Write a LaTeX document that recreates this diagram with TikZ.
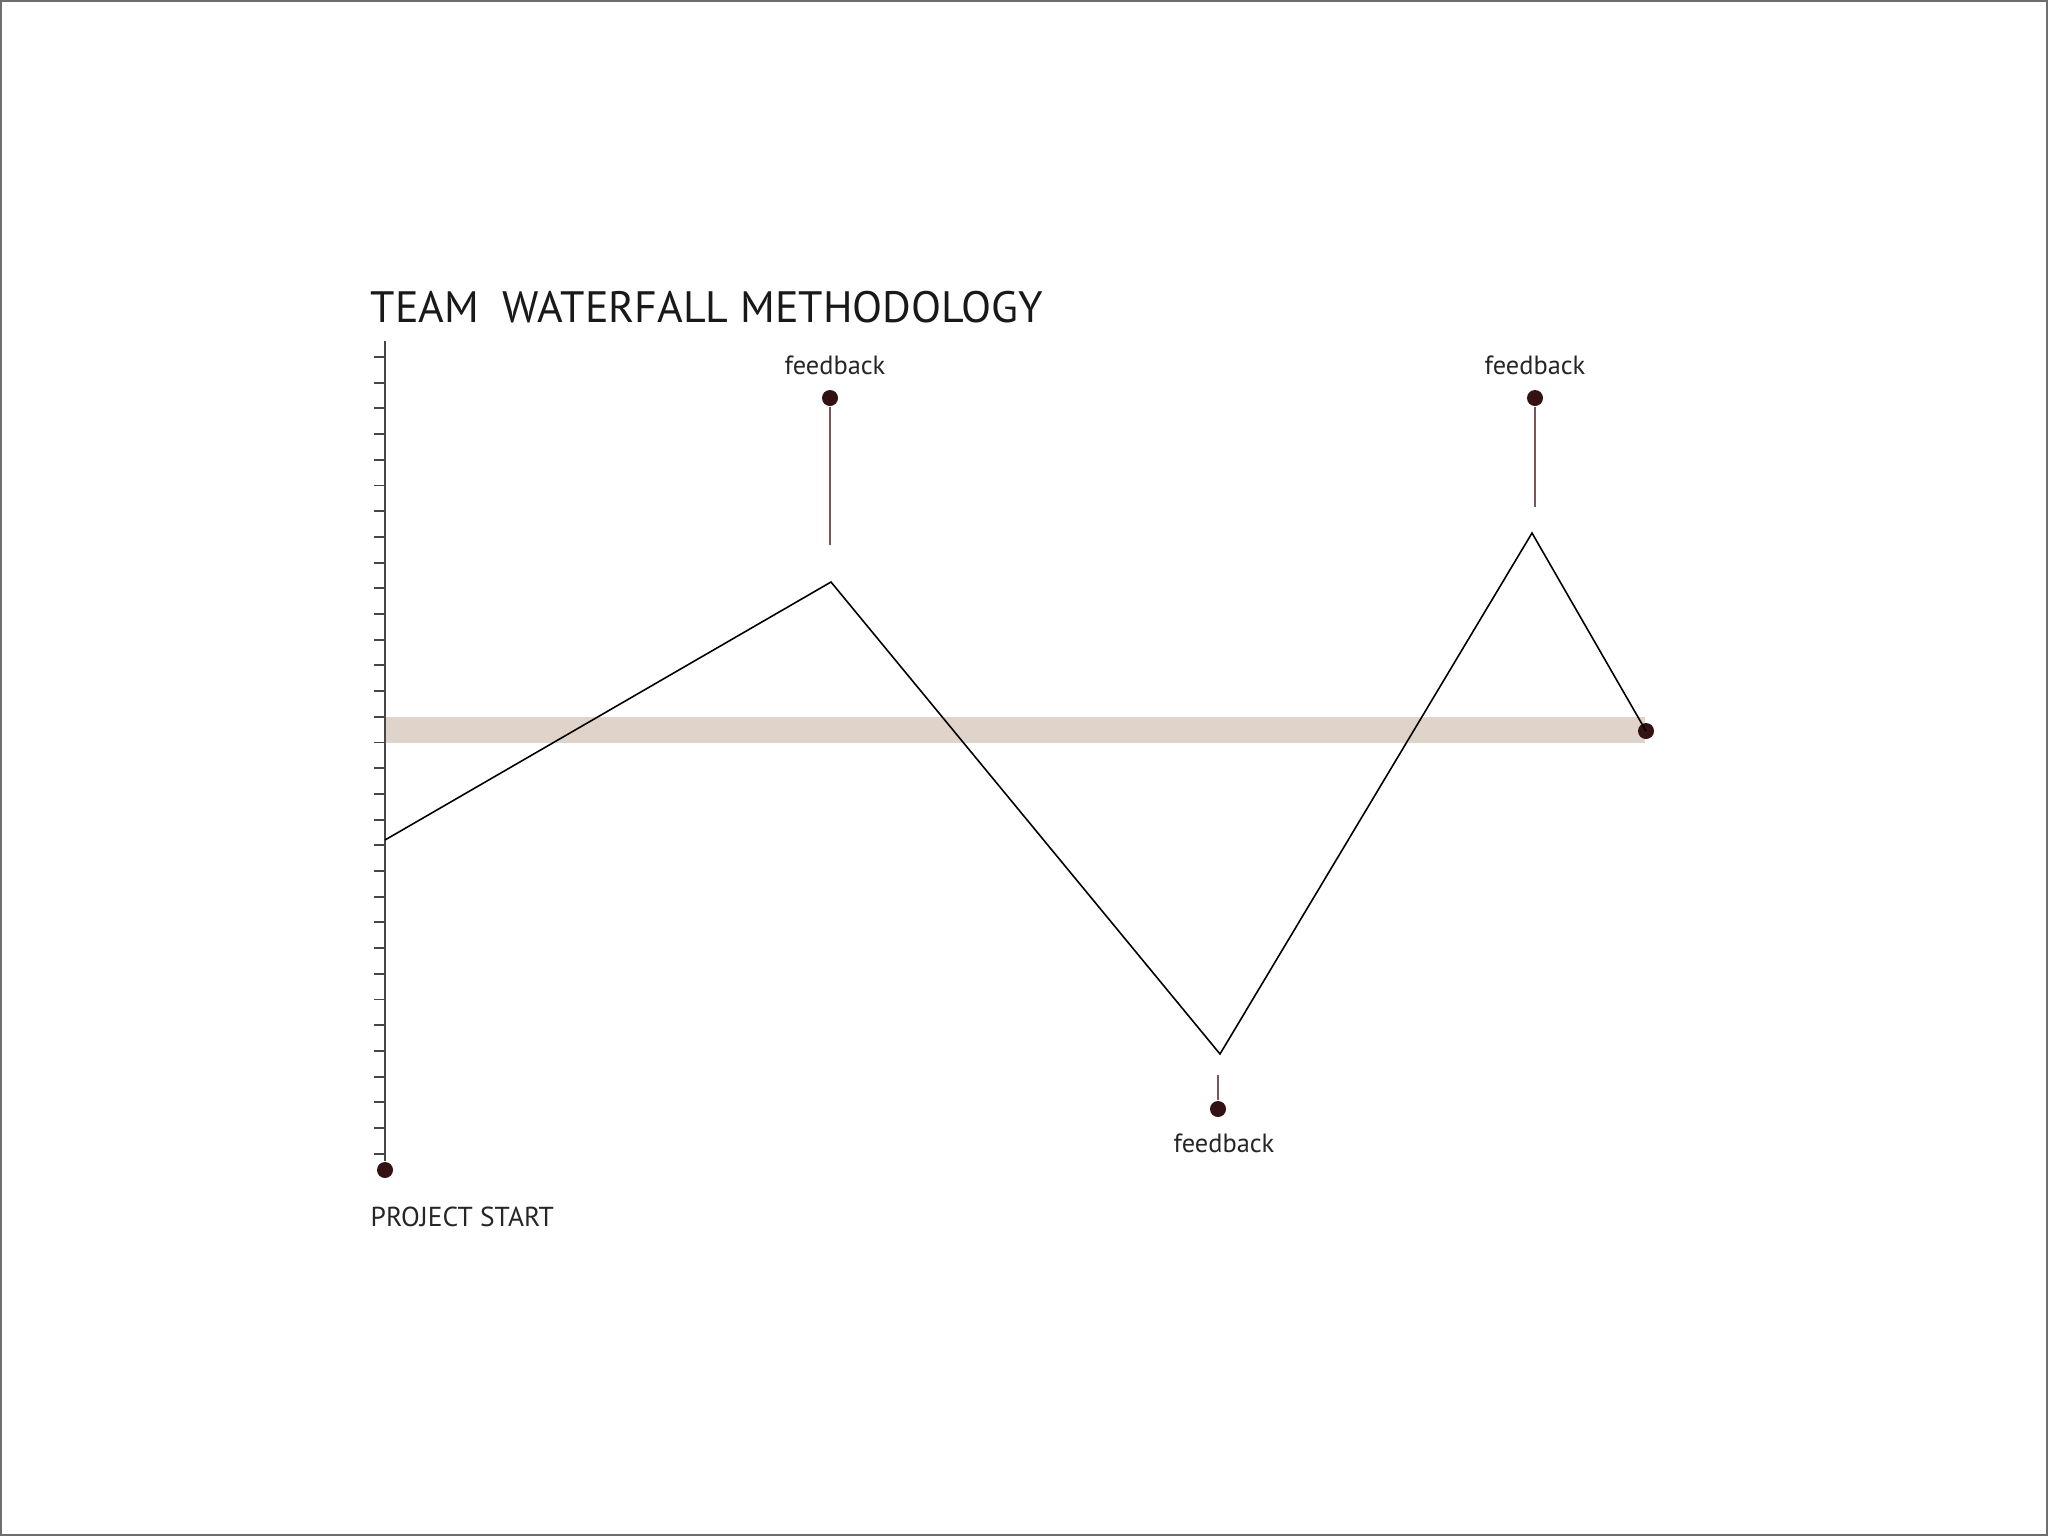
\documentclass[tikz,border=0pt]{standalone}
\usepackage{fontspec}
\setmainfont{PT Sans}
\usepackage{tikz}
\usetikzlibrary{positioning}
\definecolor{bandTan}{RGB}{224,212,202}
\definecolor{pinDot}{RGB}{52,18,20}
\definecolor{pinLine}{RGB}{125,85,88}
\definecolor{axisGray}{RGB}{70,70,70}
\definecolor{frameGray}{RGB}{110,110,110}
\tikzset{
  dot/.style={circle, fill=pinDot, inner sep=0pt, minimum size=1.6mm},
  pin/.style={draw=pinLine, line width=.6pt},
  wave/.style={draw=black, line width=.45pt},
  axis/.style={draw=axisGray, line width=.55pt},
  fbtext/.style={font=\fontsize{7.5}{9}\selectfont, text=black!85, inner sep=0pt},
  captext/.style={font=\fontsize{7.8}{9}\selectfont, text=black!85, inner sep=0pt}
}
\begin{document}
\begin{tikzpicture}[x=0.01cm, y=-0.01cm]
  \useasboundingbox (0,0) rectangle (2048,1536);
  \draw[frameGray, line width=.6pt] (1,1) rectangle (2047,1535);
  % target band
  \fill[bandTan] (385,717) rectangle (1645,743);
  % time axis
  \coordinate (top) at (385,341);
  \node[dot] (start) at (385,1170) {};
  \draw[axis] (top) -- (start);
  \foreach \i in {0,...,31}
    \draw[axis] (374,{357+25.7*\i}) -- (385,{357+25.7*\i});
  \node[captext, anchor=north west] (startlbl) at (370,1206) {PROJECT START};
  \node[font=\fontsize{12.5}{15}\selectfont, text=black!90, inner sep=0pt, anchor=west] (title) at (370,307) {TEAM\ \ WATERFALL METHODOLOGY};
  % progress line
  \coordinate (w0) at (385,840);
  \coordinate (w1) at (831,582);
  \coordinate (w2) at (1220,1054);
  \coordinate (w3) at (1532,533);
  \node[dot] (finish) at (1646,731) {};
  \draw[wave] (w0) -- (w1) -- (w2) -- (w3) -- (finish.center);
  % feedback pins
  \node[dot] (fb1) at (830,398) {};
  \coordinate (fb1end) at (830,545);
  \draw[pin] (fb1) -- (fb1end);
  \node[fbtext, above=1.35mm of fb1, xshift=.5mm] (fb1lbl) {feedback};
  \node[dot] (fb2) at (1535,398) {};
  \coordinate (fb2end) at (1535,507);
  \draw[pin] (fb2) -- (fb2end);
  \node[fbtext, above=1.35mm of fb2] (fb2lbl) {feedback};
  \node[dot] (fb3) at (1218,1109) {};
  \coordinate (fb3end) at (1218,1075);
  \draw[pin] (fb3) -- (fb3end);
  \node[fbtext, below=1.5mm of fb3, xshift=.6mm] (fb3lbl) {feedback};
\end{tikzpicture}
\end{document}
